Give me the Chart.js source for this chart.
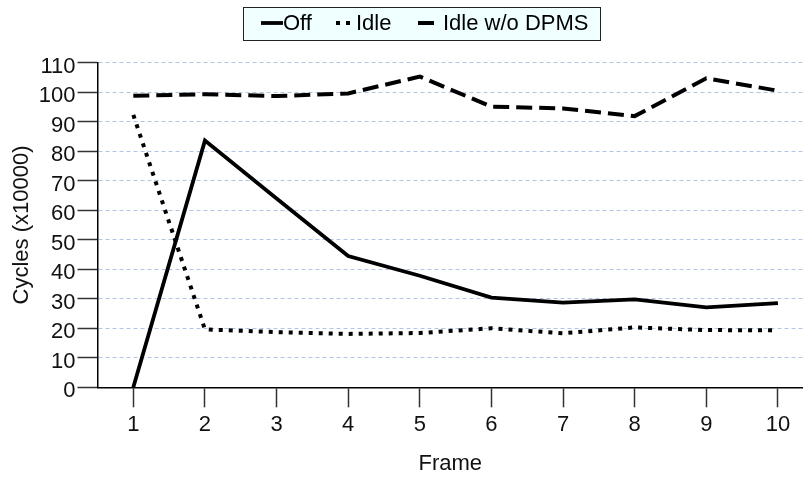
<!DOCTYPE html>
<html>
<head>
<meta charset="utf-8">
<script src="https://cdn.jsdelivr.net/npm/chart.js@4.4.1/dist/chart.umd.min.js"></script>
<style>
  html, body { margin: 0; padding: 0; background: #fff; overflow: hidden; }
  #wrap { width: 803px; height: 481px; }
</style>
</head>
<body>
<div id="wrap"><canvas id="myChart" width="803" height="481"></canvas></div>
<script>
// values
const frames = [1, 2, 3, 4, 5, 6, 7, 8, 9, 10];
const offCycles = [0, 83.6, 64, 44.5, 37.8, 30.4, 28.7, 29.8, 27.1, 28.5];
const idleCycles = [92.3, 19.6, 18.7, 18.1, 18.4, 20.0, 18.3, 20.3, 19.4, 19.3];
const idleNoDpmsCycles = [98.8, 99.3, 98.7, 99.6, 105.3, 95.1, 94.5, 91.9, 104.7, 100.5];
const yTicks = [0, 10, 20, 30, 40, 50, 60, 70, 80, 90, 100, 110];

const FONT = '"Liberation Sans", Arial, Helvetica, sans-serif';
const ctx = document.getElementById('myChart');

function toPoints(values){
  return frames.map((f, i) => ({x: f, y: values[i]}));
}

// boxed legend at the top, drawn by hand so it looks like the original
const boxLegend = {
  id: 'boxLegend',
  afterDraw(chart){
    const c = chart.ctx;
    const sets = chart.data.datasets;
    // sample start, sample end, text start for each entry
    const spots = [[261, 283, 283], [336, 355, 356], [418, 434, 443]];
    const y = 23;
    c.save();
    c.font = '22px ' + FONT;
    const lastW = c.measureText(sets[2].label).width;
    const right = spots[2][2] + lastW + 12;
    c.fillStyle = '#f0ffff';
    c.fillRect(243.5, 7.5, right - 243.5, 33);
    c.strokeStyle = '#222';
    c.lineWidth = 1;
    c.strokeRect(243.5, 7.5, right - 243.5, 33);
    sets.forEach((ds, i) => {
      const s = spots[i];
      c.strokeStyle = '#000';
      c.lineWidth = ds.borderWidth;
      c.setLineDash(ds.borderDash || []);
      c.beginPath();
      c.moveTo(s[0], y);
      c.lineTo(s[1], y);
      c.stroke();
      c.setLineDash([]);
      c.fillStyle = '#000';
      c.textBaseline = 'middle';
      c.textAlign = 'left';
      c.fillText(ds.label, s[2], y + 1);
    });
    c.restore();
  }
};

new Chart(ctx, {
  type: 'line',
  data: {
    datasets: [{
      label: 'Off',
      data: toPoints(offCycles),
      borderColor: '#000',
      borderWidth: 3.8,
      pointRadius: 0,
      tension: 0
    }, {
      label: 'Idle',
      data: toPoints(idleCycles),
      borderColor: '#000',
      borderWidth: 4,
      borderDash: [4, 6],
      pointRadius: 0,
      tension: 0
    }, {
      label: 'Idle w/o DPMS',
      data: toPoints(idleNoDpmsCycles),
      borderColor: '#000',
      borderWidth: 4,
      borderDash: [16, 7],
      pointRadius: 0,
      tension: 0
    }]
  },
  options: {
    responsive: false,
    animation: false,
    layout: { padding: { top: 62.7, left: 0, right: 0, bottom: 0 } },
    plugins: {
      legend: { display: false },
      tooltip: { enabled: false }
    },
    scales: {
      x: {
        type: 'linear',
        min: 0.5,
        max: 10.35,
        afterBuildTicks: (scale) => { scale.ticks = frames.map(v => ({value: v})); },
        afterFit: (scale) => { scale.height = 93.7; },
        grid: {
          drawOnChartArea: false,
          drawTicks: true,
          tickLength: 20,
          tickColor: '#333',
          tickWidth: 1.5
        },
        border: { color: '#000', width: 1.5 },
        ticks: {
          color: '#111',
          padding: 4,
          maxRotation: 0,
          font: { family: FONT, size: 22 }
        },
        title: {
          display: true,
          text: 'Frame',
          color: '#111',
          padding: { top: 4, bottom: 4 },
          font: { family: FONT, size: 22 }
        }
      },
      y: {
        min: 0,
        max: 110,
        afterBuildTicks: (scale) => { scale.ticks = yTicks.map(v => ({value: v})); },
        afterFit: (scale) => { scale.width = 97.5; },
        grid: {
          color: (c) => c.tick && c.tick.value === 0 ? 'rgba(0,0,0,0)' : '#b3c5e4',
          lineWidth: 1,
          tickLength: 20,
          tickColor: '#333',
          tickWidth: 1.5
        },
        border: { color: '#000', width: 1.5, dash: [4, 3] },
        ticks: {
          color: '#111',
          padding: 2,
          labelOffset: 4,
          font: { family: FONT, size: 22 }
        },
        title: {
          display: true,
          text: 'Cycles (x10000)',
          color: '#111',
          padding: { top: 9, bottom: 0 },
          font: { family: FONT, size: 22 }
        }
      }
    }
  },
  plugins: [boxLegend]
});
</script>
</body>
</html>
